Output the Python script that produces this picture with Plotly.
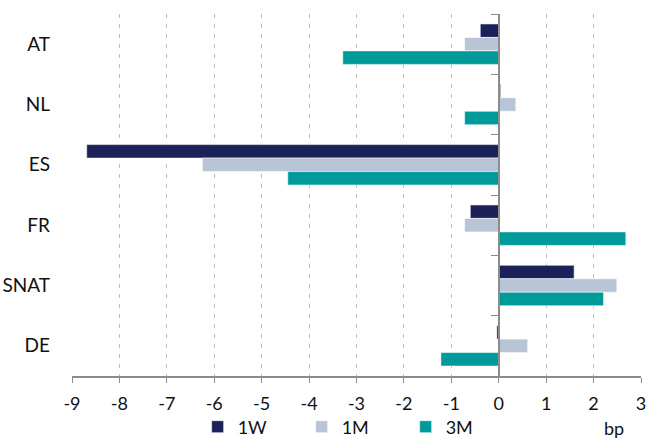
import plotly.graph_objects as go

categories = ["AT", "NL", "ES", "FR", "SNAT", "DE"]
w1 = [-0.39, 0.04, -8.69, -0.60, 1.59, -0.04]
m1 = [-0.72, 0.36, -6.25, -0.72, 2.49, 0.61]
m3 = [-3.29, -0.72, -4.45, 2.68, 2.21, -1.22]
series_names = ["1W", "1M", "3M"]
colors = ["#1B2259", "#B8C5D6", "#009A9A"]
x_ticks = list(range(-9, 4))
unit_label = "bp"

FONT = "Lato, sans-serif"
FS = 19
FS_SMALL = 18

W, H = 648, 439
ML, MR, MT, MB = 72.3, 6.5, 14, 63
PW, PH = W - ML - MR, H - MT - MB

fig = go.Figure()
for name, vals, col in zip(series_names, [w1, m1, m3], colors):
    fig.add_trace(go.Bar(
        y=categories, x=vals, name=name, orientation="h",
        marker=dict(color=col, line=dict(color="rgba(255,255,255,0.7)", width=0.8)),
    ))

# dummy trace to carry the axis drawn at x = 0
fig.add_trace(go.Scatter(x=[None], y=[None], yaxis="y2", showlegend=False, hoverinfo="skip"))

n = len(categories)
xmin, xmax = -9, 3
zero_pos = (0 - xmin) / (xmax - xmin)

fig.update_layout(
    width=W, height=H,
    margin=dict(l=ML, r=MR, t=MT, b=MB, pad=0),
    paper_bgcolor="white", plot_bgcolor="white",
    barmode="group", bargap=0.33, bargroupgap=0,
    font=dict(family=FONT, size=FS, color="#111111"),
    xaxis=dict(
        range=[xmin, xmax], tickvals=x_ticks, ticktext=[str(v) for v in x_ticks],
        showgrid=True, gridcolor="#BDBDBD", griddash="4px,6px", gridwidth=1,
        zeroline=False, showline=True, linecolor="#8C8C8C", linewidth=1.5,
        ticks="outside", ticklen=5, tickcolor="#8C8C8C",
        ticklabelstandoff=6, automargin=False, ticklabeloverflow="allow",
        tickfont=dict(family=FONT, size=FS_SMALL, color="#111111"),
    ),
    yaxis=dict(
        categoryorder="array", categoryarray=categories,
        range=[n - 0.5, -0.5],
        showgrid=False, zeroline=False, showline=False, ticks="",
        ticklabelstandoff=21, automargin=False,
        tickfont=dict(family=FONT, size=FS, color="#111111"),
    ),
    yaxis2=dict(
        overlaying="y", anchor="free", position=zero_pos, side="left",
        range=[n - 0.5, -0.5],
        tickvals=[i - 0.5 for i in range(n + 1)],
        showticklabels=False, ticks="outside", ticklen=7, tickcolor="#8C8C8C",
        showline=True, linecolor="#8C8C8C", linewidth=1.5,
        showgrid=False, zeroline=False, automargin=False,
    ),
    legend=dict(
        orientation="h", xref="paper", x=(198 - ML) / PW, xanchor="left",
        yref="container", y=1 - 427 / H, yanchor="middle",
        entrywidth=59, entrywidthmode="pixels",
        font=dict(family=FONT, size=FS_SMALL, color="#111111"),
        itemwidth=30, bgcolor="rgba(0,0,0,0)", traceorder="normal",
        borderwidth=0,
    ),
    annotations=[dict(
        text=unit_label, xref="paper", yref="paper",
        x=(614 - ML) / PW, y=-(428 - (MT + PH)) / PH,
        showarrow=False, xanchor="center", yanchor="middle",
        font=dict(family=FONT, size=FS_SMALL, color="#111111"),
    )],
)

fig.write_html("out.html", config={"displayModeBar": False},
               post_script="document.body.style.margin='0';")
